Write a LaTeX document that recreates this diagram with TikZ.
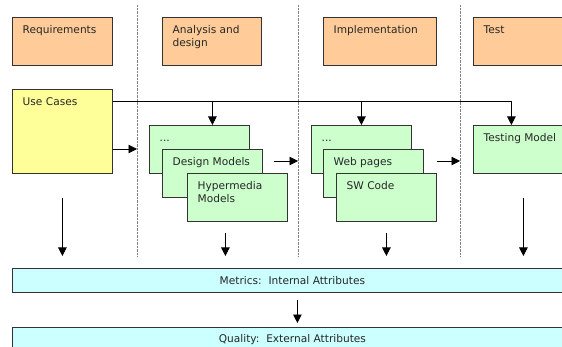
\documentclass[tikz,border=0pt]{standalone}
\usepackage{fontspec}
\newfontfamily\boxfont{DejaVu Sans}
\usetikzlibrary{arrows.meta}
\definecolor{phasecol}{HTML}{FFCC99}
\definecolor{casecol}{HTML}{FFFF99}
\definecolor{modelcol}{HTML}{CCFFCC}
\definecolor{attrcol}{HTML}{CCFFFF}
\begin{document}
\begin{tikzpicture}[
    x=1pt, y=-1pt,
    font=\boxfont\fontsize{10.6}{12.5}\selectfont,
    box/.style={draw=black!80, line width=0.8pt, anchor=north west, inner sep=0pt,
        minimum width=100pt, minimum height=48pt,
        label={[anchor=north west, align=left, inner sep=0pt, xshift=10.5pt, yshift=-8.5pt, text=black!85]north west:#1}},
    phase/.style={box={#1}, fill=phasecol},
    model/.style={box={#1}, fill=modelcol},
    attr/.style={draw=black!80, line width=0.8pt, fill=attrcol, anchor=north west, inner sep=0pt,
        minimum width=560pt, minimum height=24pt, text=black!85},
    arr/.style={line width=0.8pt, -{Triangle[length=8.5pt,width=8.5pt]}},
    lane/.style={black!50, line width=0.5pt, dash pattern=on 0.6pt off 0.8pt}
    ]
  \clip (0,0) rectangle (562,347);
  % phases
  \node[phase=Requirements] (req) at (12,17) {};
  \node[phase={Analysis and\\design}, minimum width=99pt] (ana) at (162,17) {};
  \node[phase=Implementation, minimum width=113pt] (imp) at (323,17) {};
  \node[phase=Test] (tst) at (473,17) {};
  % lanes
  \foreach \x/\n in {137/A, 298/B, 460/C}
    \draw[lane] (\x,5) coordinate (lane\n) -- (\x,257);
  % models
  \node[box=Use Cases, fill=casecol, minimum height=84pt] (uc) at (12,89) {};
  \node[model={\vphantom{D}...}] (d1) at (149,125) {};
  \node[model=Design Models] (d2) at (162,149) {};
  \node[model={Hypermedia\\Models}] (d3) at (187,173) {};
  \node[model={\vphantom{D}...}] (i1) at (311,125) {};
  \node[model=Web pages] (i2) at (323,149) {};
  \node[model=SW Code] (i3) at (336,173) {};
  \node[model=Testing Model] (tm) at (473,125) {};
  % attributes
  \node[attr] (met) at (12,268) {Metrics:\ \ Internal Attributes};
  \node[attr] (qual) at (12,327) {Quality:\ \ External Attributes};
  % use cases feed the models
  \coordinate (bus) at ([yshift=-12pt]uc.north east);
  \draw[arr] (bus) -| ([xshift=-12pt]tm.north);
  \draw[arr] (bus -| d2.north) -- (d2.north |- d1.north);
  \draw[arr] (bus -| i1.north) -- (i1.north);
  \coordinate (ucout) at ([yshift=-60pt]uc.north east);
  \draw[arr] (ucout) -- (ucout -| laneA);
  \coordinate (dout) at ([xshift=11pt,yshift=-12pt]d2.north east);
  \draw[arr] (dout) -- (dout -| laneB);
  \coordinate (iout) at ([xshift=13pt,yshift=-12pt]i2.north east);
  \draw[arr] (iout) -- (iout -| laneC);
  % down to the metrics
  \coordinate (dd) at ([xshift=-12pt,yshift=-11pt]d3.south);
  \draw[arr, shorten >=12pt] ([yshift=-24pt]uc.south) -- (uc.south |- met.north);
  \draw[arr, shorten >=12pt] (dd) -- (dd |- met.north);
  \draw[arr, shorten >=12pt] ([yshift=-11pt]i3.south) -- (i3.south |- met.north);
  \draw[arr, shorten >=12pt] ([yshift=-24pt]tm.south) -- (tm.south |- met.north);
  \draw[arr, shorten <=7pt, shorten >=4pt] ([xshift=5pt]met.south) -- ([xshift=5pt]qual.north);
\end{tikzpicture}
\end{document}
